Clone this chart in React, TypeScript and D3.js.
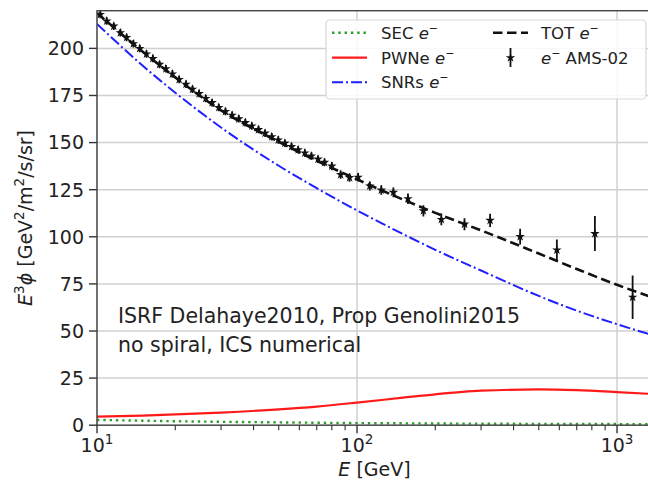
import React from "react";
import * as d3 from "d3";

const energyGrid = [10, 15, 20, 30, 50, 70, 100, 150, 200, 300, 500, 700, 1000, 1400];
const secFlux = [2.8, 2.4, 2.1, 1.8, 1.5, 1.3, 1.1, 1.0, 0.9, 0.8, 0.7, 0.65, 0.6, 0.55];
const pwnFlux = [4.5, 5.1, 5.7, 6.7, 8.4, 9.9, 12.0, 14.6, 16.4, 18.3, 19.0, 18.6, 17.6, 16.5];
const snrFlux = [213, 190.8, 176.5, 158, 137.7, 125.8, 114, 101.5, 93.1, 82.1, 68.6, 60.8, 53.6, 47.4];
const totFlux = [218.8, 198.2, 184.6, 167.1, 150.4, 140.3, 130.5, 119.8, 112.7, 103.4, 91.1, 82.9, 74.5, 67.3];

const amsE = [10.3, 10.9, 11.6, 12.3, 13.0, 13.8, 14.6, 15.5, 16.4, 17.4, 18.4, 19.5, 20.7, 22.0, 23.3, 24.7, 26.2, 27.7, 29.4, 31.2, 33.1, 35.1, 37.2, 39.4, 41.8, 44.3, 47.0, 49.8, 52.8, 56.0, 59.4, 63.0, 66.8, 70.8, 75.0, 80.0, 86.5, 93.6, 101, 112, 124, 138, 157, 180, 211, 259, 325, 424, 587, 822, 1148];
const amsFlux = [218.0, 214.5, 211.8, 208.3, 205.8, 202.5, 199.9, 197.0, 194.6, 191.5, 189.2, 186.4, 183.5, 181.0, 178.3, 176.0, 173.4, 171.2, 168.6, 166.5, 164.5, 162.6, 160.6, 158.8, 156.9, 155.0, 153.1, 151.4, 149.7, 147.9, 146.2, 144.5, 142.9, 141.2, 139.5, 137.5, 133.0, 131.4, 131.6, 127.0, 124.8, 123.6, 120.2, 113.8, 109.2, 106.7, 108.7, 100.1, 93.0, 101.7, 67.9];
const amsErr = [2, 2, 2, 2, 2, 2, 2, 2, 2, 2, 2, 2, 2, 2, 2, 2, 2, 2, 2, 2, 2, 2, 2, 2, 2, 2, 2, 2, 2, 2, 2, 2, 2, 2, 2, 2.2, 2.2, 2.2, 2.3, 2.4, 2.5, 2.6, 2.8, 3.0, 3.1, 3.2, 3.5, 4.2, 5.5, 9.3, 11.5];

const yTicks = [0, 25, 50, 75, 100, 125, 150, 175, 200];
const xMajor = [10, 100, 1000];
const xExponents = ["1", "2", "3"];
const xMinor = [20, 30, 40, 50, 60, 70, 80, 90, 200, 300, 400, 500, 600, 700, 800, 900];

const W = 648, H = 484;
const L = 97, R = 652, T = 10.7, B = 425.2;
const FONT = "DejaVu Sans";

export default function App() {
  const x = d3.scaleLog().domain([10, 1363]).range([L, R]);
  const y = d3.scaleLinear().domain([0, 220]).range([B, T]);

  const mk = (vals: number[]) =>
    d3.line<number>().x((_, i) => x(energyGrid[i])).y((v) => y(v)).curve(d3.curveMonotoneX)(vals) || "";

  const star = d3.symbol().type(d3.symbolStar).size(28)() || "";

  const ital = (t: string) => <tspan fontStyle="italic">{t}</tspan>;
  const eminus = (
    <>
      <tspan fontStyle="italic">e</tspan>
      <tspan dy={-7} fontSize={11}>−</tspan>
    </>
  );

  return (
    <svg width={W} height={H} style={{ position: "absolute", left: 0, top: 0, background: "white" }} fontFamily={FONT}>
      <defs>
        <clipPath id="plot">
          <rect x={L} y={T - 2} width={R - L} height={B - T + 2} />
        </clipPath>
      </defs>
      <rect x={0} y={0} width={W} height={H} fill="white" />
      {yTicks.map((t) => (
        <line key={"gy" + t} x1={L} x2={R} y1={y(t)} y2={y(t)} stroke="#d0d0d0" strokeWidth={1.5} />
      ))}
      {xMajor.map((t) => (
        <line key={"gx" + t} x1={x(t)} x2={x(t)} y1={T} y2={B} stroke="#d0d0d0" strokeWidth={1.5} />
      ))}

      <g clipPath="url(#plot)">
        <path d={mk(secFlux)} fill="none" stroke="#2e9e2e" strokeWidth={2.4} strokeDasharray="2.4,3.9" />
        <path d={mk(pwnFlux)} fill="none" stroke="#ff1a1a" strokeWidth={2.2} />
        <path d={mk(snrFlux)} fill="none" stroke="#1f1fff" strokeWidth={2} strokeDasharray="11,3,2,3" />
        <path d={mk(totFlux)} fill="none" stroke="#111" strokeWidth={2.6} strokeDasharray="9.5,4.5" />
        {amsE.map((e, i) => (
          <g key={"p" + i}>
            <line x1={x(e)} x2={x(e)} y1={y(amsFlux[i] - amsErr[i])} y2={y(amsFlux[i] + amsErr[i])} stroke="#111" strokeWidth={1.8} />
            <path d={star} transform={`translate(${x(e)},${y(amsFlux[i])})`} fill="#111" />
          </g>
        ))}
      </g>

      <rect x={L} y={T} width={R - L + 10} height={B - T} fill="none" stroke="#444" strokeWidth={1.4} />

      {yTicks.map((t) => (
        <g key={"yt" + t}>
          <line x1={L - 8} x2={L} y1={y(t)} y2={y(t)} stroke="#333" strokeWidth={1.4} />
          <text x={L - 13} y={y(t)} dy="0.36em" textAnchor="end" fontSize={19} fill="#222">{t}</text>
        </g>
      ))}
      {xMajor.map((t, i) => (
        <g key={"xt" + t}>
          <line x1={x(t)} x2={x(t)} y1={B} y2={B + 8} stroke="#333" strokeWidth={1.4} />
          <text x={x(t)} y={452} textAnchor="middle" fontSize={19} fill="#222">
            10<tspan dy={-8} fontSize={13.5}>{xExponents[i]}</tspan>
          </text>
        </g>
      ))}
      {xMinor.map((t) => (
        <line key={"xm" + t} x1={x(t)} x2={x(t)} y1={B} y2={B + 5} stroke="#333" strokeWidth={1.1} />
      ))}

      <text x={(L + R) / 2} y={476} textAnchor="middle" fontSize={19} fill="#222">
        {ital("E")} [GeV]
      </text>
      <text transform={`translate(32,${(T + B) / 2}) rotate(-90)`} textAnchor="middle" fontSize={19} fill="#222">
        {ital("E")}<tspan dy={-8} fontSize={13.5}>3</tspan>
        <tspan dy={8} fontStyle="italic">ϕ</tspan> [GeV<tspan dy={-8} fontSize={13.5}>2</tspan>
        <tspan dy={8}>/m</tspan><tspan dy={-8} fontSize={13.5}>2</tspan><tspan dy={8}>/s/sr]</tspan>
      </text>

      <text x={118} y={323} fontSize={20.5} fill="#222">ISRF Delahaye2010, Prop Genolini2015</text>
      <text x={118} y={352} fontSize={20.5} fill="#222">no spiral, ICS numerical</text>

      <g fontSize={16.5} fill="#222">
        <rect x={326} y={20} width={320} height={79} rx={4} fill="white" fillOpacity={0.85} stroke="#d8d8d8" strokeWidth={1.2} />
        <line x1={332} x2={367} y1={32.7} y2={32.7} stroke="#2e9e2e" strokeWidth={2.4} strokeDasharray="2.4,3.9" />
        <text x={381} y={32.7} dy="0.36em">SEC {eminus}</text>
        <line x1={332} x2={367} y1={57.7} y2={57.7} stroke="#ff1a1a" strokeWidth={2.2} />
        <text x={381} y={57.7} dy="0.36em">PWNe {eminus}</text>
        <line x1={332} x2={367} y1={82.3} y2={82.3} stroke="#1f1fff" strokeWidth={2} strokeDasharray="11,3,2,3" />
        <text x={381} y={82.3} dy="0.36em">SNRs {eminus}</text>
        <line x1={493} x2={528} y1={32.7} y2={32.7} stroke="#111" strokeWidth={2.6} strokeDasharray="9.5,4.5" />
        <text x={541} y={32.7} dy="0.36em">TOT {eminus}</text>
        <line x1={510.5} x2={510.5} y1={48} y2={67} stroke="#111" strokeWidth={1.8} />
        <path d={star} transform="translate(510.5,57.7)" fill="#111" />
        <text x={541} y={57.7} dy="0.36em">{eminus}<tspan dy={7}> AMS-02</tspan></text>
      </g>
    </svg>
  );
}
